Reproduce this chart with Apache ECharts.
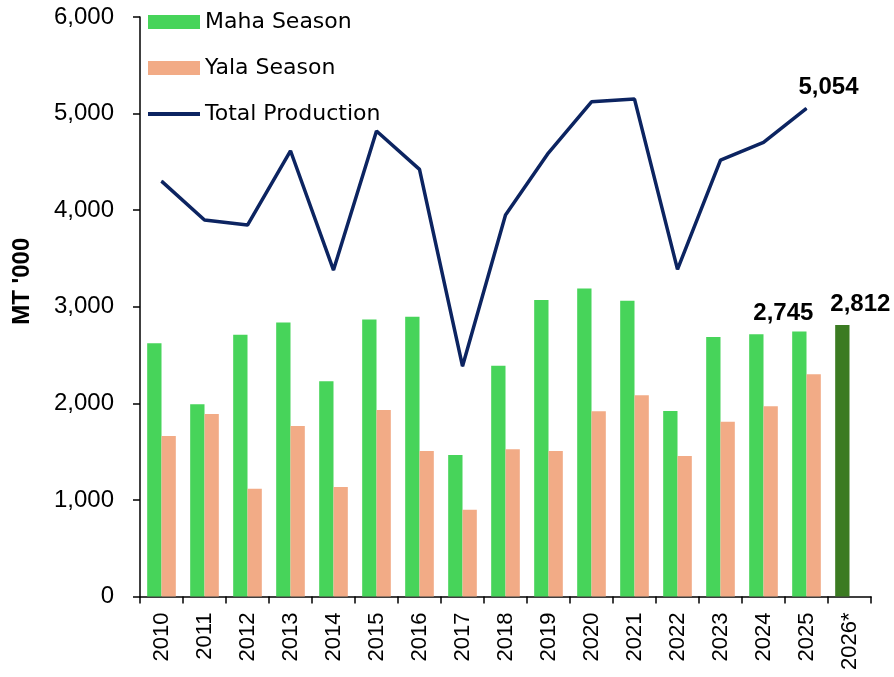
<!DOCTYPE html>
<html>
<head>
<meta charset="utf-8">
<script src="https://cdn.jsdelivr.net/npm/echarts@6/dist/echarts.min.js"></script>
<style>html,body{margin:0;padding:0;background:#fff}#c{width:894px;height:677px}</style>
</head>
<body>
<div id="c"></div>
<script>
const categories = ['2010','2011','2012','2013','2014','2015','2016','2017','2018','2019','2020','2021','2022','2023','2024','2025','2026*'];
const mahaValues = [2621, 1990, 2710, 2838, 2228, 2869, 2897, 1465, 2389, 3069, 3190, 3061, 1920, 2686, 2714, 2745, 2812];
const yalaValues = [1661, 1889, 1116, 1765, 1133, 1931, 1506, 899, 1524, 1506, 1917, 2083, 1454, 1810, 1969, 2300, null];
const totalValues = [4301, 3898, 3846, 4615, 3380, 4819, 4422, 2385, 3949, 4594, 5122, 5150, 3387, 4519, 4702, 5054, null];
const yTicks = [0, 1000, 2000, 3000, 4000, 5000, 6000];

const GREEN = '#47d45a', ORANGE = '#f2ab86', DARKGREEN = '#3b7b22', NAVY = '#0c2461';
const boldLabel = {fontFamily: 'Liberation Sans, Arial, sans-serif', fontWeight: 'bold', fontSize: 24, color: '#000'};
const legendText = {fontFamily: 'DejaVu Sans, sans-serif', fontSize: 22, color: '#000', lineHeight: 22};
const fmt = v => v.toLocaleString('en-US');

const mahaData = mahaValues.map((v, i) => {
  const d = {value: v};
  if (i === 15) d.label = Object.assign({show: true, position: 'top', offset: [-16, -1], formatter: p => fmt(p.value)}, boldLabel);
  if (i === 16) {
    d.itemStyle = {color: DARKGREEN};
    d.label = Object.assign({show: true, position: 'top', offset: [18, -4], formatter: p => fmt(p.value)}, boldLabel);
  }
  return d;
});
const totalData = totalValues.map((v, i) => {
  const d = {value: v};
  if (i === 15) d.label = Object.assign({show: true, position: 'top', distance: 4, offset: [22, -4], formatter: p => fmt(p.value)}, boldLabel);
  return d;
});

const chart = echarts.init(document.getElementById('c'), null, {renderer: 'canvas'});
chart.setOption({
  animation: false,
  backgroundColor: '#fff',
  grid: {left: 140, right: 23, top: 17, bottom: 80.5, containLabel: false},
  legend: [
    {
      orient: 'vertical', left: 148, top: 11, padding: 0, itemWidth: 52, itemHeight: 14, itemGap: 24,
      textStyle: legendText,
      data: [{name: 'Maha Season', icon: 'rect'}, {name: 'Yala Season', icon: 'rect'}]
    },
    {
      orient: 'vertical', left: 148, top: 103, padding: 0, itemWidth: 52, itemHeight: 4, itemGap: 24,
      textStyle: legendText,
      data: [{name: 'Total Production', icon: 'rect'}]
    }
  ],
  xAxis: {
    type: 'category', data: categories, boundaryGap: true,
    axisLine: {lineStyle: {color: '#000', width: 1.5}},
    axisTick: {show: true, length: 7, alignWithLabel: false, lineStyle: {color: '#000', width: 1.5}},
    axisLabel: {rotate: 90, margin: 16, interval: 0, fontFamily: 'Liberation Sans, Arial, sans-serif', fontSize: 22, color: '#000'}
  },
  yAxis: {
    type: 'value', min: yTicks[0], max: yTicks[yTicks.length - 1], interval: 1000,
    name: "MT '000", nameLocation: 'middle', nameGap: 106, nameRotate: 90,
    nameTextStyle: Object.assign({padding: [0, 0, 0, 51]}, boldLabel),
    axisLine: {show: true, lineStyle: {color: '#000', width: 1.5}},
    axisTick: {show: true, length: 7, lineStyle: {color: '#000', width: 1.5}},
    splitLine: {show: false},
    axisLabel: {margin: 26, fontFamily: 'Liberation Sans, Arial, sans-serif', fontSize: 24, color: '#000', formatter: v => fmt(v)}
  },
  series: [
    {name: 'Maha Season', type: 'bar', data: mahaData, barWidth: '33.3%', barGap: '0%', itemStyle: {color: GREEN}, z: 2},
    {name: 'Yala Season', type: 'bar', data: yalaValues, barWidth: '33.3%', barGap: '0%', itemStyle: {color: ORANGE}, z: 2},
    {name: 'Total Production', type: 'line', data: totalData, symbol: 'circle', symbolSize: 1, showSymbol: true,
     lineStyle: {color: NAVY, width: 3.5}, itemStyle: {color: NAVY}, z: 3}
  ]
});
</script>
</body>
</html>
